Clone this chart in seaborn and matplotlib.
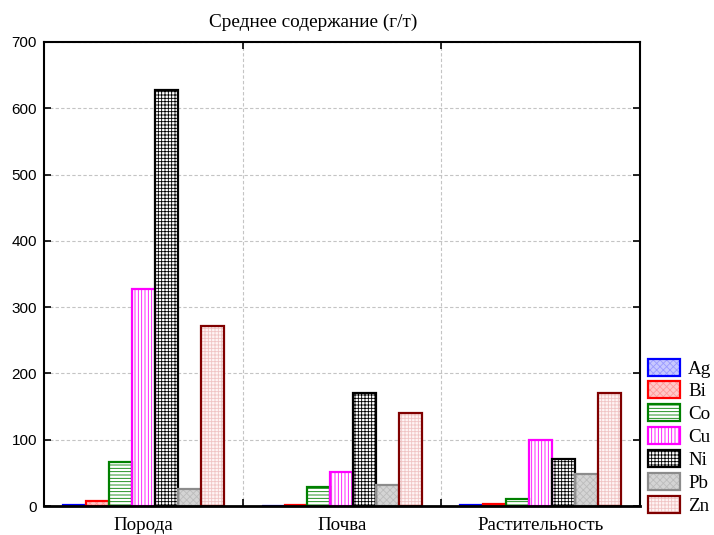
import numpy as np
import pandas as pd
import matplotlib
matplotlib.use("Agg")
import matplotlib.pyplot as plt
from matplotlib.patches import Patch, Rectangle
from matplotlib.legend_handler import HandlerTuple
import seaborn as sns

categories = ["Порода", "Почва", "Растительность"]
elements = ["Ag", "Bi", "Co", "Cu", "Ni", "Pb", "Zn"]
ag = [1, 0.5, 1]
bi = [8, 1, 3]
co = [66, 29, 11]
cu = [327, 51, 100]
ni = [627, 171, 71]
pb = [25, 31, 49]
zn = [271, 140, 171]

values = {"Ag": ag, "Bi": bi, "Co": co, "Cu": cu, "Ni": ni, "Pb": pb, "Zn": zn}
df = pd.DataFrame(
    [(c, e, values[e][i]) for e in elements for i, c in enumerate(categories)],
    columns=["category", "element", "value"],
)

# fill, hatch colour, outline colour, hatch pattern
styles = {
    "Ag": ("#c8c8ff", "#9a9aff", "#0000ff", "xxxxx"),
    "Bi": ("#ffc8c8", "#ff9a9a", "#ff0000", "xxxxx"),
    "Co": ("#ffffff", "#008000", "#008000", "-----"),
    "Cu": ("#ffffff", "#ff00ff", "#ff00ff", "|||||"),
    "Ni": ("#ffffff", "#000000", "#000000", "+++++"),
    "Pb": ("#d4d4d4", "#bcbcbc", "#8c8c8c", "xxxxx"),
    "Zn": ("#fff4f4", "#f0c4c4", "#800000", "+++++"),
}

sns.set_theme(style="white")
plt.rcParams["hatch.linewidth"] = 0.6
plt.rcParams["text.color"] = "black"
plt.rcParams["xtick.color"] = "black"
plt.rcParams["ytick.color"] = "black"

fig = plt.figure(figsize=(7.14, 5.35), dpi=100)
ax = fig.add_axes([0.0616, 0.0542, 0.8347, 0.8673])

sns.barplot(data=df, x="category", y="value", hue="element",
            hue_order=elements, order=categories, ax=ax,
            width=0.81, legend=False, errorbar=None)

for el, cont in zip(elements, ax.containers):
    fc, hc, oc, hatch = styles[el]
    for p in cont.patches:
        p.set_facecolor(fc)
        p.set_edgecolor(hc)
        p.set_hatch(hatch)
        p.set_linewidth(0)
        ax.add_patch(Rectangle(p.get_xy(), p.get_width(), p.get_height(),
                               fill=False, edgecolor=oc, linewidth=1.6,
                               zorder=p.get_zorder() + 0.1))

ax.set_xlim(-0.5, 2.5)
ax.set_ylim(0, 700)
ax.set_yticks(np.arange(0, 701, 100))
ax.set_xticks([0, 1, 2])
ax.set_xticks([0.5, 1.5], minor=True)
ax.set_xlabel("")
ax.set_ylabel("")

serif = ["Liberation Serif", "DejaVu Serif"]
ax.set_xticklabels(categories, family=serif, fontsize=13.7, color="black")
for t in ax.get_yticklabels():
    t.set_family("Liberation Sans")
    t.set_fontsize(11)
    t.set_color("black")

ax.tick_params(axis="x", which="major", length=0, pad=8)
ax.tick_params(axis="x", which="minor", direction="in", length=5, width=1.2,
               top=True, bottom=True, color="black")
ax.tick_params(axis="y", direction="in", length=5, width=1.2, left=True,
               right=True, pad=5, color="black")

ax.grid(True, axis="y", which="major", linestyle=(0, (3, 2)), color="#c4c4c4", lw=0.8)
ax.grid(True, axis="x", which="minor", linestyle=(0, (3, 2)), color="#c4c4c4", lw=0.8)
ax.grid(False, axis="x", which="major")
ax.set_axisbelow(True)

for s in ax.spines.values():
    s.set_visible(True)
    s.set_color("black")
    s.set_linewidth(1.5)
ax.spines["bottom"].set_linewidth(2)

ax.set_title("Среднее содержание (г/т)", family=serif, fontsize=13.9,
             color="black", x=0.451, pad=11)

handles = []
for el in elements:
    fc, hc, oc, hatch = styles[el]
    h1 = Patch(facecolor=fc, edgecolor=hc, hatch=hatch, linewidth=0)
    h2 = Patch(facecolor="none", edgecolor=oc, linewidth=1.6)
    handles.append((h1, h2))
leg = fig.legend(handles, elements, loc="lower left",
                 bbox_to_anchor=(0.907, 0.038), frameon=False,
                 handler_map={tuple: HandlerTuple(ndivide=1, pad=0)},
                 prop={"family": serif, "size": 13.7},
                 handlelength=1.68, handleheight=1.0, labelspacing=0.2,
                 handletextpad=0.45, borderaxespad=0, borderpad=0)

fig.savefig("out.png", dpi=100, facecolor="white")
